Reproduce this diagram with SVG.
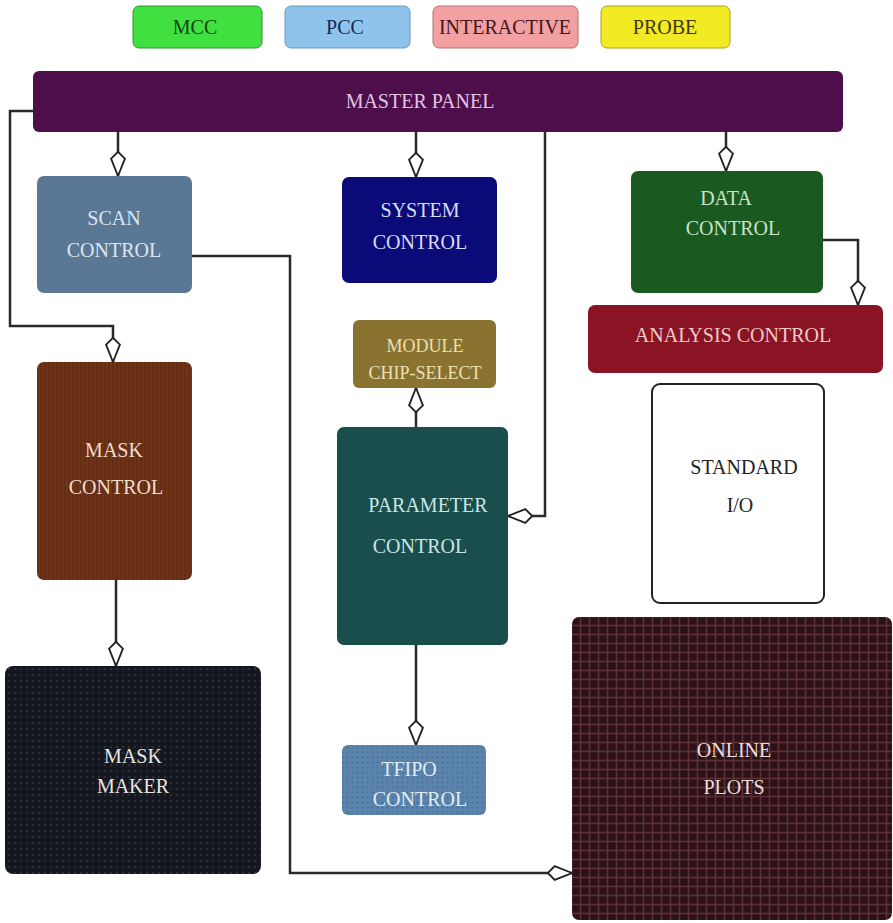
<svg xmlns="http://www.w3.org/2000/svg" width="893" height="923" viewBox="0 0 893 923">
<style>
.t{font-family:"Liberation Serif","DejaVu Serif",serif;font-size:20px;text-anchor:middle;}
.s{font-size:18px;}
.lg{font-family:"Liberation Serif","DejaVu Serif",serif;font-size:20px;text-anchor:middle;}
.c{fill:none;stroke:#2a2a2a;stroke-width:2.5;}
</style>
<defs>
<marker id="ah" markerUnits="userSpaceOnUse" markerWidth="30" markerHeight="20" viewBox="-24 -8 26 16" refX="0" refY="0" orient="auto">
<path d="M0,0 L-15,-6 L-21,0 L-15,6 Z" fill="#fff" stroke="#222" stroke-width="1.6"/>
</marker>
<pattern id="grid" width="9" height="9" patternUnits="userSpaceOnUse">
<rect width="9" height="9" fill="#2c1216"/>
<path d="M0,4.5H9M4.5,0V9" stroke="#5e3036" stroke-width="1.5"/>
</pattern>
<pattern id="dots" width="6" height="6" patternUnits="userSpaceOnUse">
<rect width="6" height="6" fill="#14171d"/>
<circle cx="3" cy="3" r="1.2" fill="#2a2e36"/>
</pattern>
<pattern id="stripes" width="4" height="4" patternUnits="userSpaceOnUse">
<rect width="4" height="4" fill="#6e3318"/>
<path d="M1,0V4" stroke="#5a2812" stroke-width="1"/>
</pattern>
<pattern id="tdots" width="5" height="5" patternUnits="userSpaceOnUse">
<rect width="5" height="5" fill="#5b84ad"/>
<circle cx="2.5" cy="2.5" r="1" fill="#4a6f96"/>
</pattern>
</defs>

<g id="legend-mcc"><rect x="133" y="6" width="129" height="42" rx="6" fill="#3fe03f" stroke="#2a9a2a"/><text class="lg" x="195" y="34" fill="#173f17">MCC</text></g>
<g id="legend-pcc"><rect x="285" y="6" width="125" height="42" rx="6" fill="#8ec4ec" stroke="#6a9aba"/><text class="lg" x="345" y="34" fill="#182a52">PCC</text></g>
<g id="legend-interactive"><rect x="433" y="6" width="145" height="42" rx="6" fill="#f2a0a2" stroke="#b07072"/><text class="lg" x="505" y="34" fill="#45161a">INTERACTIVE</text></g>
<g id="legend-probe"><rect x="601" y="6" width="129" height="42" rx="6" fill="#f2ea22" stroke="#a8a020"/><text class="lg" x="665" y="34" fill="#40380c">PROBE</text></g>

<g id="connectors">
<path class="c" d="M33,111 H10 V326 H113 V362" marker-end="url(#ah)"/>
<path class="c" d="M118,132 V176" marker-end="url(#ah)"/>
<path class="c" d="M416,132 V177" marker-end="url(#ah)"/>
<path class="c" d="M726,132 V171" marker-end="url(#ah)"/>
<path class="c" d="M545,132 V516 H508" marker-end="url(#ah)"/>
<path class="c" d="M823,240 H858 V305" marker-end="url(#ah)"/>
<path class="c" d="M416,427 V388" marker-end="url(#ah)"/>
<path class="c" d="M416,645 V745" marker-end="url(#ah)"/>
<path class="c" d="M116,580 V666" marker-end="url(#ah)"/>
<path class="c" d="M192,256 H290 V873 H572" marker-end="url(#ah)"/>
</g>

<g id="master-panel"><rect x="33" y="71" width="810" height="61" rx="6" fill="#4e0e4c"/><text class="t" x="420" y="108" fill="#e2c4e2">MASTER PANEL</text></g>
<g id="scan-control"><rect x="37" y="176" width="155" height="117" rx="7" fill="#5a7896"/><text class="t" fill="#dde6f0"><tspan x="114" y="225">SCAN</tspan><tspan x="114" y="257">CONTROL</tspan></text></g>
<g id="system-control"><rect x="342" y="177" width="155" height="106" rx="7" fill="#0a0a78"/><text class="t" fill="#d8dcf4"><tspan x="420" y="217">SYSTEM</tspan><tspan x="420" y="249">CONTROL</tspan></text></g>
<g id="data-control"><rect x="631" y="171" width="192" height="122" rx="7" fill="#1a5a20"/><text class="t" fill="#c8e2c8"><tspan x="726" y="205">DATA</tspan><tspan x="733" y="235">CONTROL</tspan></text></g>
<g id="analysis-control"><rect x="588" y="305" width="295" height="68" rx="7" fill="#8a1424"/><text class="t" x="733" y="342" fill="#f0c8c8">ANALYSIS CONTROL</text></g>
<g id="standard-io"><rect x="652" y="384" width="172" height="219" rx="8" fill="#fff" stroke="#222" stroke-width="2"/><text class="t" fill="#222"><tspan x="744" y="474">STANDARD</tspan><tspan x="740" y="512">I/O</tspan></text></g>
<g id="module-chip-select"><rect x="353" y="320" width="143" height="68" rx="6" fill="#8a7230"/><text class="t s" fill="#eee0b0"><tspan x="425" y="352">MODULE</tspan><tspan x="425" y="379">CHIP-SELECT</tspan></text></g>
<g id="parameter-control"><rect x="337" y="427" width="171" height="218" rx="7" fill="#1a4e4c"/><text class="t" fill="#c8e6e4"><tspan x="428" y="512">PARAMETER</tspan><tspan x="420" y="553">CONTROL</tspan></text></g>
<g id="tfipo-control"><rect x="342" y="745" width="144" height="70" rx="6" fill="url(#tdots)"/><text class="t" fill="#e0ecf6"><tspan x="409" y="776">TFIPO</tspan><tspan x="420" y="806">CONTROL</tspan></text></g>
<g id="mask-control"><rect x="37" y="362" width="155" height="218" rx="7" fill="url(#stripes)"/><text class="t" fill="#f0ddd0"><tspan x="114" y="457">MASK</tspan><tspan x="116" y="494">CONTROL</tspan></text></g>
<g id="mask-maker"><rect x="5" y="666" width="256" height="208" rx="8" fill="url(#dots)"/><text class="t" fill="#e4e4e4"><tspan x="133" y="763">MASK</tspan><tspan x="133" y="793">MAKER</tspan></text></g>
<g id="online-plots"><rect x="572" y="617" width="320" height="303" rx="7" fill="url(#grid)"/><text class="t" fill="#eadede"><tspan x="734" y="757">ONLINE</tspan><tspan x="734" y="794">PLOTS</tspan></text></g>
</svg>
